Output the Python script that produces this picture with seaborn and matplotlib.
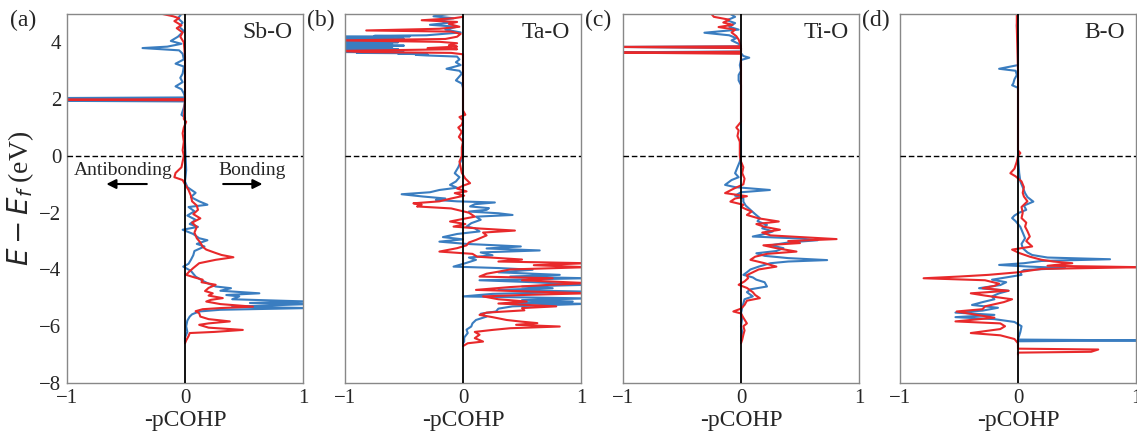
import pandas as pd
import seaborn as sns
import matplotlib.pyplot as plt

# panel names, labels
bonds = ["Sb-O", "Ta-O", "Ti-O", "B-O"]
panel_tags = ["(a)", "(b)", "(c)", "(d)"]

# (energy, -pCOHP), blue curve
sb_blue = [(5.0, -0.03), (4.85, -0.06), (4.7, -0.02), (4.55, -0.05), (4.4, -0.01), (4.2, -0.06),
           (4.05, -0.12), (3.95, -0.03), (3.85, -0.15), (3.8, -0.36), (3.72, -0.05), (3.6, -0.02),
           (3.4, -0.01), (3.25, -0.08), (3.15, -0.01), (2.9, -0.02), (2.75, -0.04), (2.6, -0.02),
           (2.45, -0.08), (2.35, -0.03), (2.2, -0.01), (2.06, 0.0), (2.04, -1.05), (2.02, 0.0),
           (1.96, 0.0), (1.94, -1.05), (1.92, 0.0), (1.7, -0.01), (1.45, -0.03), (1.35, 0.0),
           (0.5, 0.0), (-0.5, 0.01), (-0.9, 0.0), (-1.1, 0.02), (-1.3, 0.09), (-1.45, 0.05),
           (-1.6, 0.12), (-1.72, 0.19), (-1.8, 0.03), (-1.95, 0.08), (-2.1, 0.02), (-2.25, 0.09),
           (-2.4, 0.04), (-2.5, 0.11), (-2.6, -0.02), (-2.75, 0.07), (-2.9, 0.12), (-2.97, 0.19),
           (-3.1, 0.1), (-3.19, 0.165), (-3.35, 0.08), (-3.5, 0.07), (-3.66, 0.05), (-3.8, 0.03),
           (-3.9, -0.015), (-4.05, 0.05), (-4.25, 0.09), (-4.4, 0.15), (-4.5, 0.2), (-4.6, 0.26),
           (-4.66, 0.39), (-4.75, 0.3), (-4.84, 0.63), (-4.9, 0.35), (-4.95, 0.46), (-5.05, 0.4),
           (-5.13, 1.05), (-5.18, 0.55), (-5.22, 1.05), (-5.31, 0.4), (-5.36, 1.05), (-5.42, 0.3),
           (-5.48, 0.12), (-5.58, 0.06), (-5.66, 0.04), (-5.8, 0.02), (-6.0, 0.01), (-6.2, 0.02),
           (-6.4, 0.0), (-6.55, 0.0)]
sb_red = [(5.0, -0.19), (4.92, -0.1), (4.85, -0.05), (4.75, -0.09), (4.6, -0.03), (4.5, -0.07),
          (4.35, -0.02), (4.2, -0.04), (4.0, -0.01), (3.5, 0.0), (2.0, 0.0), (1.98, -1.05),
          (1.96, 0.0), (1.3, -0.01), (1.2, 0.01), (1.0, -0.01), (0.8, -0.02), (0.5, -0.01),
          (0.2, -0.02), (0.0, -0.01), (-0.2, -0.02), (-0.4, -0.03), (-0.6, -0.08), (-0.75, -0.09),
          (-0.85, -0.02), (-1.0, 0.0), (-1.2, 0.03), (-1.4, 0.05), (-1.6, 0.06), (-1.75, 0.1),
          (-1.9, 0.11), (-2.05, 0.07), (-2.2, 0.13), (-2.35, 0.06), (-2.5, 0.1), (-2.7, 0.08),
          (-2.9, 0.1), (-3.05, 0.13), (-3.2, 0.15), (-3.3, 0.18), (-3.42, 0.26), (-3.49, 0.31),
          (-3.57, 0.41), (-3.66, 0.26), (-3.78, 0.12), (-3.95, 0.07), (-4.1, 0.03), (-4.19, 0.01),
          (-4.28, 0.08), (-4.36, 0.15), (-4.45, 0.14), (-4.54, 0.26), (-4.65, 0.2), (-4.76, 0.17),
          (-4.84, 0.235), (-4.92, 0.2), (-5.01, 0.32), (-5.07, 0.22), (-5.13, 0.18), (-5.22, 0.3),
          (-5.31, 0.576), (-5.36, 0.3), (-5.4, 0.15), (-5.47, 0.09), (-5.54, 0.12), (-5.66, 0.13),
          (-5.75, 0.2), (-5.83, 0.38), (-5.9, 0.2), (-5.95, 0.12), (-6.05, 0.2), (-6.13, 0.49),
          (-6.2, 0.25), (-6.24, 0.04), (-6.35, 0.03), (-6.5, 0.01), (-6.6, 0.0)]

ta_blue = [(5.0, -0.12), (4.92, -0.25), (4.85, -0.08), (4.78, -0.22), (4.7, -0.1), (4.62, -0.28),
           (4.55, -0.05), (4.45, -0.15), (4.35, -0.02), (4.25, -0.31), (4.23, -0.75), (4.215, -0.45),
           (4.2, -1.05), (4.185, -0.6), (4.17, -1.05), (4.155, -0.8), (4.14, -1.05), (4.125, -0.5),
           (4.11, -1.05), (4.095, -0.9), (4.08, -1.05), (4.065, -0.65), (4.05, -1.05), (4.035, -0.8),
           (4.02, -1.05), (4.005, -0.55), (3.99, -1.05), (3.975, -0.85), (3.96, -1.05), (3.945, -0.6),
           (3.93, -1.05), (3.915, -0.9), (3.9, -1.05), (3.885, -0.5), (3.87, -1.05), (3.855, -0.75),
           (3.84, -1.05), (3.825, -0.6), (3.81, -1.05), (3.795, -0.85), (3.78, -1.05), (3.765, -0.55),
           (3.75, -1.05), (3.735, -0.7), (3.72, -1.05), (3.705, -0.8), (3.69, -1.05), (3.675, -0.6),
           (3.66, -1.05), (3.645, -0.5), (3.63, -0.9), (3.615, -0.4), (3.6, -0.55), (3.58, -0.3),
           (3.56, -0.4), (3.54, -0.31), (3.5, -0.05), (3.4, -0.03), (3.3, -0.06),
           (3.2, -0.02), (3.07, -0.14), (3.0, -0.03), (2.9, -0.01), (2.66, -0.06), (2.55, -0.01),
           (2.4, 0.0), (0.0, 0.0), (-0.2, -0.02),
           (-0.4, -0.04), (-0.61, -0.07), (-0.75, -0.03), (-0.9, -0.06), (-1.02, -0.11),
           (-1.12, -0.05), (-1.2, -0.2), (-1.28, -0.28), (-1.35, -0.52), (-1.43, -0.34),
           (-1.5, -0.15), (-1.55, -0.23), (-1.6, -0.05), (-1.64, 0.27), (-1.7, 0.1), (-1.78, 0.06),
           (-1.84, 0.22), (-1.9, 0.2), (-1.96, 0.05), (-2.02, 0.3), (-2.08, 0.42), (-2.14, 0.11),
           (-2.25, 0.15), (-2.37, 0.07), (-2.49, 0.03), (-2.55, 0.1), (-2.66, 0.14), (-2.75, -0.05),
           (-2.86, -0.17), (-2.94, 0.0), (-3.02, -0.2), (-3.1, 0.03), (-3.19, 0.49), (-3.26, 0.2),
           (-3.33, 0.65), (-3.4, 0.15), (-3.5, 0.25), (-3.58, 0.05), (-3.66, 0.11), (-3.78, 0.02),
           (-3.9, -0.08), (-3.95, 0.3), (-4.01, 0.59), (-4.1, 0.3), (-4.19, 0.82), (-4.25, 0.4),
           (-4.31, 1.05), (-4.38, 0.14), (-4.45, 0.6), (-4.54, 1.05), (-4.6, 0.5), (-4.66, 0.76),
           (-4.72, 0.3), (-4.78, 1.05), (-4.86, 0.25), (-4.95, 0.0), (-5.02, 1.05), (-5.08, 0.5),
           (-5.13, 0.93), (-5.18, 0.4), (-5.21, 1.05), (-5.3, 0.42), (-5.38, 0.3), (-5.48, 0.28),
           (-5.56, 0.15), (-5.66, 0.2), (-5.78, 0.11), (-5.9, 0.08), (-6.01, 0.07), (-6.12, 0.03),
           (-6.24, 0.04), (-6.4, 0.01), (-6.54, 0.01), (-6.6, 0.0)]
ta_red = [(4.9, 0.0), (4.85, -0.08), (4.78, -0.35), (4.72, -0.05), (4.65, -0.12), (4.55, -0.03),
          (4.48, -0.2), (4.42, -0.82), (4.38, -0.1), (4.3, -0.02), (4.2, -0.05), (4.12, -0.15),
          (4.07, -1.05), (4.02, -0.2), (3.97, -0.05), (3.9, -0.12), (3.85, -0.05), (3.8, -0.3),
          (3.76, -0.05), (3.7, -1.05), (3.66, -0.85), (3.63, -0.1), (3.58, 0.0), (1.6, 0.0),
          (1.45, 0.02), (1.37, -0.03), (1.25, 0.0), (1.1, -0.01), (1.0, -0.04), (0.85, -0.01),
          (0.67, -0.035), (0.5, 0.0), (0.3, -0.01), (0.0, -0.01), (-0.2, -0.03), (-0.4, -0.02),
          (-0.6, -0.01), (-0.8, 0.02), (-0.96, 0.06), (-1.05, 0.0), (-1.15, -0.05), (-1.25, 0.03),
          (-1.31, -0.07), (-1.4, 0.01), (-1.5, -0.1), (-1.6, -0.2), (-1.67, -0.42), (-1.72, -0.35),
          (-1.78, -0.39), (-1.85, -0.1), (-1.9, -0.05), (-2.0, 0.05), (-2.14, 0.1), (-2.22, 0.0),
          (-2.31, -0.11), (-2.4, 0.02), (-2.49, -0.08), (-2.56, 0.15), (-2.63, 0.44), (-2.7, 0.17),
          (-2.8, 0.2), (-2.96, 0.11), (-3.05, 0.05), (-3.15, 0.03), (-3.25, -0.05), (-3.37, -0.2),
          (-3.45, 0.08), (-3.55, 0.12), (-3.65, 0.5), (-3.72, 0.3), (-3.78, 1.05), (-3.85, 0.6),
          (-3.92, 1.05), (-4.0, 0.4), (-4.07, 0.31), (-4.15, 0.2), (-4.25, 0.14), (-4.31, 0.76),
          (-4.38, 0.5), (-4.48, 1.05), (-4.55, 0.7), (-4.62, 0.4), (-4.72, 0.11), (-4.78, 0.6),
          (-4.84, 1.05), (-4.9, 0.5), (-4.95, 0.17), (-5.05, 0.3), (-5.13, 0.54), (-5.2, 0.3),
          (-5.3, 0.79), (-5.36, 0.5), (-5.44, 0.52), (-5.52, 0.2), (-5.6, 0.14), (-5.68, 0.25),
          (-5.78, 0.37), (-5.84, 0.5), (-5.89, 0.63), (-5.95, 0.45), (-6.01, 0.82), (-6.07, 0.4),
          (-6.13, 0.25), (-6.2, 0.1), (-6.3, 0.14), (-6.42, 0.1), (-6.54, 0.17), (-6.6, 0.04),
          (-6.7, 0.0)]

ti_blue = [(5.0, -0.09), (4.9, -0.05), (4.78, -0.12), (4.68, -0.05), (4.55, -0.1), (4.45, -0.02),
           (4.34, -0.31), (4.25, -0.1), (4.15, -0.04), (4.07, -0.08), (3.95, -0.02), (3.86, 0.0),
           (3.84, -1.05), (3.8, 0.0), (3.68, 0.0), (3.65, -1.05), (3.62, 0.0), (3.52, 0.02),
           (3.46, 0.07), (3.38, 0.0), (3.2, -0.01), (3.0, 0.0), (2.85, -0.02), (2.66, -0.02),
           (2.5, 0.0), (0.0, 0.0), (-0.2, -0.01), (-0.4, -0.03), (-0.61, -0.05), (-0.75, -0.02),
           (-0.85, -0.08), (-1.02, -0.135), (-1.1, -0.05), (-1.2, 0.245), (-1.28, 0.0), (-1.4, -0.05),
           (-1.5, 0.02), (-1.61, 0.02), (-1.75, 0.04), (-1.9, 0.08), (-2.05, 0.12), (-2.19, 0.16),
           (-2.3, 0.14), (-2.43, 0.22), (-2.55, 0.18), (-2.66, 0.27), (-2.75, 0.2), (-2.84, 0.1),
           (-2.91, 0.5), (-2.97, 0.65), (-3.05, 0.4), (-3.15, 0.25), (-3.25, 0.36), (-3.35, 0.3),
           (-3.43, 0.13), (-3.52, 0.2), (-3.6, 0.4), (-3.67, 0.73), (-3.72, 0.4), (-3.78, 0.25),
           (-3.9, 0.15), (-4.0, 0.08), (-4.1, 0.05), (-4.19, 0.02), (-4.28, 0.1), (-4.36, 0.13),
           (-4.45, 0.2), (-4.6, 0.22), (-4.7, 0.08), (-4.8, 0.05), (-4.95, 0.1), (-5.05, 0.03),
           (-5.2, 0.02), (-5.35, 0.01), (-5.54, 0.0), (-5.7, 0.01), (-6.0, 0.0), (-6.2, 0.01),
           (-6.5, 0.0)]
ti_red = [(5.0, -0.25), (4.9, -0.23), (4.8, -0.1), (4.7, -0.15), (4.62, -0.07), (4.54, -0.19),
          (4.45, -0.05), (4.35, -0.08), (4.22, -0.04), (4.1, -0.02), (3.86, 0.0), (3.84, -1.05),
          (3.8, 0.0), (3.67, 0.0), (3.64, -1.05), (3.6, 0.0), (1.2, 0.0), (1.1, -0.02), (1.0, -0.04),
          (0.9, -0.02), (0.7, -0.03), (0.5, -0.01), (0.0, -0.01), (-0.2, 0.0), (-0.4, 0.02),
          (-0.6, 0.01), (-0.8, 0.03), (-1.0, 0.02), (-1.15, -0.06), (-1.31, -0.135), (-1.42, 0.05),
          (-1.5, -0.05), (-1.61, -0.09), (-1.72, 0.02), (-1.8, 0.0), (-1.96, 0.09), (-2.08, 0.05),
          (-2.2, 0.15), (-2.31, 0.32), (-2.4, 0.13), (-2.5, 0.2), (-2.6, 0.33), (-2.7, 0.18),
          (-2.8, 0.25), (-2.93, 0.81), (-3.0, 0.4), (-3.07, 0.5), (-3.15, 0.19), (-3.25, 0.3),
          (-3.37, 0.47), (-3.45, 0.22), (-3.55, 0.12), (-3.66, 0.08), (-3.78, 0.2), (-3.9, 0.3),
          (-4.0, 0.15), (-4.1, 0.1), (-4.2, 0.05), (-4.31, 0.06), (-4.42, 0.03), (-4.54, -0.02),
          (-4.65, 0.05), (-4.8, 0.1), (-4.9, 0.12), (-5.01, 0.16), (-5.1, 0.05), (-5.25, 0.03),
          (-5.38, 0.0), (-5.48, -0.065), (-5.55, 0.0), (-5.7, 0.02), (-5.9, 0.05), (-6.0, 0.02),
          (-6.15, 0.03), (-6.3, 0.02), (-6.48, 0.01), (-6.6, 0.0)]

b_blue = [(5.0, 0.0), (4.6, -0.01), (4.0, 0.0), (3.2, 0.0), (3.07, -0.16), (3.0, -0.02),
          (2.85, -0.01), (2.7, -0.03), (2.55, -0.04), (2.49, -0.05), (2.4, 0.0), (0.0, 0.0),
          (-0.6, 0.01), (-0.9, 0.02), (-1.1, 0.04), (-1.31, 0.06), (-1.45, 0.08), (-1.61, 0.13),
          (-1.75, 0.05), (-1.9, 0.07), (-2.0, 0.01), (-2.1, -0.03), (-2.19, -0.05), (-2.3, -0.02),
          (-2.5, 0.02), (-2.7, 0.04), (-2.9, 0.06), (-3.1, 0.03), (-3.25, 0.04), (-3.4, 0.08),
          (-3.49, 0.12), (-3.58, 0.25), (-3.64, 0.78), (-3.7, 0.2), (-3.78, 0.05), (-3.84, -0.16),
          (-3.9, 0.1), (-3.95, 0.4), (-4.02, 0.05), (-4.1, 0.02), (-4.19, 0.03), (-4.28, -0.1),
          (-4.36, -0.22), (-4.45, -0.1), (-4.55, -0.15), (-4.66, -0.33), (-4.75, -0.08),
          (-4.84, -0.16), (-4.95, -0.22), (-5.05, -0.2), (-5.15, -0.3), (-5.25, -0.39),
          (-5.35, -0.17), (-5.45, -0.3), (-5.52, -0.53), (-5.6, -0.2), (-5.68, -0.53), (-5.75, -0.2),
          (-5.85, -0.03), (-6.0, 0.03), (-6.2, 0.02), (-6.47, 0.0), (-6.5, 1.05), (-6.53, 0.0),
          (-6.7, 0.0)]
b_red = [(5.0, -0.01), (4.5, -0.01), (3.0, 0.0), (0.2, 0.0), (0.1, 0.02), (0.0, 0.0),
         (-0.2, -0.01), (-0.45, -0.03), (-0.61, -0.065), (-0.72, -0.02), (-0.9, 0.03), (-1.1, 0.05),
         (-1.3, 0.04), (-1.43, 0.05), (-1.6, 0.08), (-1.8, 0.03), (-2.0, 0.04), (-2.19, 0.03),
         (-2.35, 0.07), (-2.49, 0.06), (-2.65, 0.08), (-2.84, 0.1), (-3.0, 0.07), (-3.19, 0.12),
         (-3.3, -0.05), (-3.42, 0.01), (-3.55, 0.1), (-3.66, 0.2), (-3.72, 0.3), (-3.78, 0.46),
         (-3.87, 0.25), (-3.92, 1.05), (-3.98, 0.2), (-4.1, 0.0), (-4.19, -0.25), (-4.25, -0.5),
         (-4.31, -0.8), (-4.38, -0.28), (-4.5, -0.16), (-4.58, -0.2), (-4.66, -0.3), (-4.75, -0.08),
         (-4.84, -0.4), (-4.92, -0.28), (-5.05, -0.05), (-5.15, -0.12), (-5.3, -0.28), (-5.4, -0.3),
         (-5.48, -0.52), (-5.6, -0.35), (-5.7, -0.2), (-5.83, -0.53), (-5.9, -0.15), (-6.0, -0.11),
         (-6.1, -0.15), (-6.24, -0.4), (-6.32, -0.15), (-6.45, -0.03), (-6.6, 0.0), (-6.79, 0.0),
         (-6.82, 0.68), (-6.9, 0.62), (-6.93, 0.0), (-7.0, 0.0)]

blue_curves = [sb_blue, ta_blue, ti_blue, b_blue]
red_curves = [sb_red, ta_red, ti_red, b_red]

sns.set_theme(style="white")
plt.rcParams['font.family'] = ['Liberation Serif', 'DejaVu Serif']
plt.rcParams['mathtext.fontset'] = 'dejavusans'

BLUE = '#3a7dc0'
RED = '#e8292b'

fig = plt.figure(figsize=(11.37, 4.37), dpi=100)
lefts = [67, 345, 623, 900]
axes = []
for i in range(4):
    ax = fig.add_axes([lefts[i] / 1137, 1 - 383 / 437, 236 / 1137, 369 / 437])
    axes.append(ax)
    for curve, col in [(blue_curves[i], BLUE), (red_curves[i], RED)]:
        df = pd.DataFrame(curve, columns=['E', 'pcohp'])
        sns.lineplot(data=df, x='pcohp', y='E', sort=False, estimator=None,
                     color=col, lw=1.5, ax=ax)
    ax.axvline(0, color='black', lw=1.3, zorder=5)
    ax.axhline(0, color='black', lw=1.0, ls='--', dashes=(4, 2), zorder=5)
    ax.set_xlim(-1, 1)
    ax.set_ylim(-8, 5)
    ax.set_xticks([-1, 0, 1])
    ax.set_xticklabels(['\u22121', '0', '1'])
    ax.set_xlabel('-pCOHP', fontsize=17, labelpad=2)
    for s in ax.spines.values():
        s.set_color('#888888')
        s.set_linewidth(1.0)
    ax.tick_params(axis='x', labelsize=15, length=3, color='#888888', pad=1)
    ax.text(0.955, 0.95, bonds[i], transform=ax.transAxes, ha='right', va='center', fontsize=17)
    if i == 0:
        ax.set_yticks([-8, -6, -4, -2, 0, 2, 4])
        ax.set_yticklabels(['\u22128', '\u22126', '\u22124', '\u22122', '0', '2', '4'])
        ax.tick_params(axis='y', labelsize=15, length=3, color='#888888', pad=1)
        ax.set_ylabel('$E-E_f$ (eV)', fontsize=20, labelpad=2)
    else:
        ax.set_ylabel('')
        ax.tick_params(axis='y', left=False, labelleft=False)

# panel tags
tag_x = [10, 307, 585, 862]
for i in range(4):
    fig.text(tag_x[i] / 1137, 1 - 20 / 437, panel_tags[i], fontsize=17, ha='left', va='center')

ax0 = axes[0]
ax0.text(-0.52, -0.5, 'Antibonding', fontsize=14, ha='center', va='center')
ax0.text(0.57, -0.5, 'Bonding', fontsize=14, ha='center', va='center')
ax0.annotate('', xy=(-0.69, -0.99), xytext=(-0.30, -0.99),
             arrowprops=dict(arrowstyle='-|>', color='black', lw=1.5, mutation_scale=14))
ax0.annotate('', xy=(0.68, -0.99), xytext=(0.30, -0.99),
             arrowprops=dict(arrowstyle='-|>', color='black', lw=1.5, mutation_scale=14))

fig.savefig('out.png', dpi=100)
